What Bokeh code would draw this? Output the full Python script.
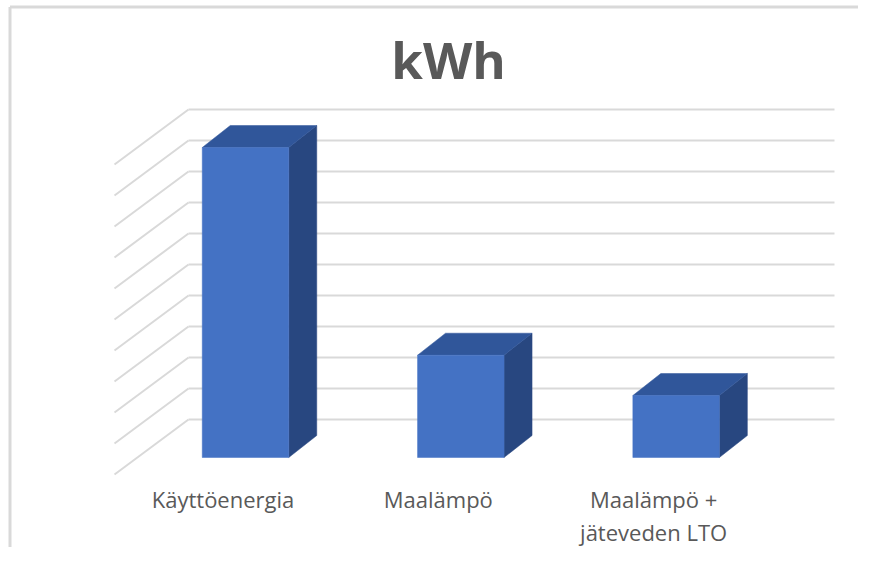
from bokeh.plotting import figure
from bokeh.models import Range1d, Label
from bokeh.core.properties import value
from bokeh.embed import file_html
from bokeh.resources import INLINE

# ---- data ----
categories = ["Käyttöenergia", "Maalämpö", "Maalämpö +\njäteveden LTO"]
kwh = [100, 33, 20]
grid_values = [0, 10, 20, 30, 40, 50, 60, 70, 80, 90, 100]
title_text = "kWh"

# ---- layout constants (pixels) ----
W, H = 858, 547
PX = 215.3          # pixels per category step
PY = 3.1            # pixels per value unit
X_ORIGIN = 245      # canvas x of first bar front centre
Y_ORIGIN = 457      # canvas y of value 0 on the bar front plane

def dx(px):
    return px / PX

def dy(px):
    return px / PY

p = figure(width=W, height=H, output_backend="svg", toolbar_location=None,
           x_range=Range1d(-X_ORIGIN / PX, (W - X_ORIGIN) / PX),
           y_range=Range1d(-(H - Y_ORIGIN) / PY, Y_ORIGIN / PY),
           min_border=0)
p.axis.visible = False
p.grid.visible = False
p.outline_line_color = None
p.background_fill_color = "white"
p.border_fill_color = "white"

grid_col = "#d9d9d9"

# back wall gridlines and left-wall diagonals
wall_left = dx(188 - X_ORIGIN)
wall_right = dx(834 - X_ORIGIN)
wall_dy = dy(38)
xs_h, ys_h, xs_d, ys_d = [], [], [], []
for g in grid_values:
    yb = g + wall_dy
    xs_h.append([wall_left, wall_right]); ys_h.append([yb, yb])
    xs_d.append([wall_left, wall_left - dx(74)]); ys_d.append([yb, yb - dy(55)])
p.multi_line(xs_h, ys_h, line_color=grid_col, line_width=2)
p.multi_line(xs_d, ys_d, line_color=grid_col, line_width=2)

# 3D bars
hw = dx(43.25)
ddx, ddy = dx(28), dy(22)
front_l, front_r, tops = [], [], []
top_xs, top_ys, side_xs, side_ys = [], [], [], []
for i, v in enumerate(kwh):
    front_l.append(i - hw); front_r.append(i + hw); tops.append(v)
    top_xs.append([i - hw, i + hw, i + hw + ddx, i - hw + ddx])
    top_ys.append([v, v, v + ddy, v + ddy])
    side_xs.append([i + hw, i + hw + ddx, i + hw + ddx, i + hw])
    side_ys.append([0, ddy, v + ddy, v])
p.patches(side_xs, side_ys, fill_color="#284780", line_color="#284780", line_width=0.5)
p.patches(top_xs, top_ys, fill_color="#30569a", line_color="#30569a", line_width=0.5)
p.quad(left=front_l, right=front_r, bottom=[0] * len(kwh), top=tops,
       fill_color="#4472c4", line_color="#4472c4", line_width=0.5)

# category labels
lab_x = [i - dx(22.5) for i in range(len(categories))]
lab_y = [dy(Y_ORIGIN - 483)] * len(categories)
p.text(x=lab_x, y=lab_y, text=categories, text_font=value("Open Sans"),
       text_font_size="22px", text_color="#595959", text_align="center",
       text_baseline="top", text_line_height=1.1)

# title
p.add_layout(Label(x=dx(448 - X_ORIGIN), y=dy(Y_ORIGIN - 58), text=title_text,
                   text_font="Open Sans", text_font_style="bold",
                   text_font_size="51px", text_color="#595959",
                   text_align="center", text_baseline="alphabetic"))

# chart border (top and left edges)
x0, x1 = p.x_range.start, p.x_range.end
y1 = p.y_range.end
y0 = p.y_range.start
p.line([x0 + dx(9.5), x0 + dx(9.5)], [y0, y1 - dy(6.5)], line_color=grid_col, line_width=3)
p.line([x0 + dx(9.5), x1], [y1 - dy(6.5), y1 - dy(6.5)], line_color=grid_col, line_width=3)

open("out.html", "w").write(file_html(p, INLINE))
